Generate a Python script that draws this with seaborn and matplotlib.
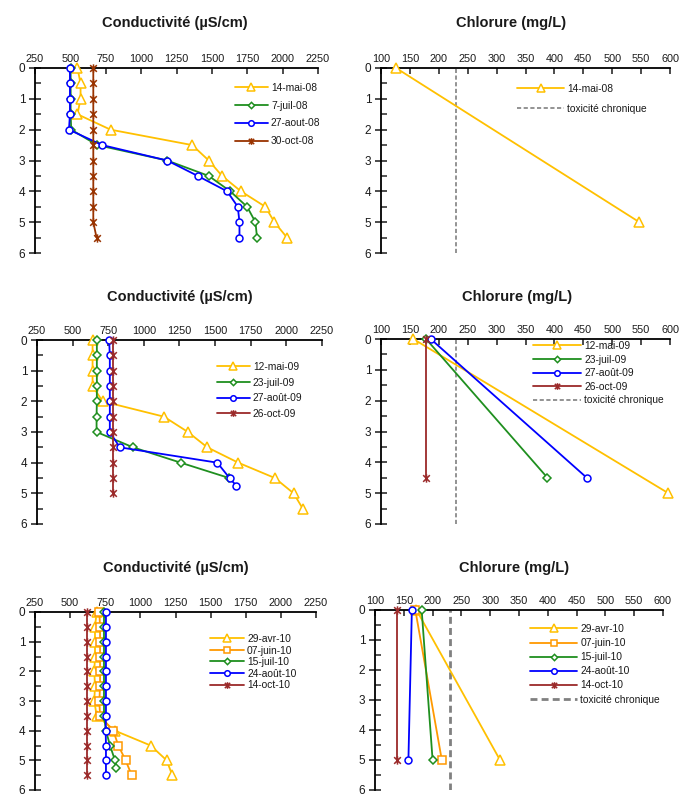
import numpy as np
import matplotlib
matplotlib.use("Agg")
import matplotlib.pyplot as plt
from matplotlib.path import Path
from matplotlib.ticker import MultipleLocator
import seaborn as sns

sns.set_style("white")
plt.rcParams["font.family"] = ["Liberation Sans", "DejaVu Sans"]

# ---------------- data ----------------
# 2008 conductivity profiles (µS/cm) vs depth (m)
depth_08 = [0, 0.5, 1, 1.5, 2, 2.5, 3, 3.5, 4, 4.5, 5, 5.5]
cond_14mai08 = [550, 572, 572, 550, 784, 1361, 1478, 1572, 1706, 1878, 1942, 2031]
cond_7juil08 = [502, 502, 502, 502, 506, 690, 1184, 1478, 1630, 1749, 1808, 1819]
cond_27aout08 = [497, 497, 497, 497, 490, 725, 1184, 1400, 1608, 1683, 1695, 1695]
cond_30oct08 = [662, 662, 662, 662, 662, 662, 662, 662, 662, 662, 662, 685]

# 2008 chloride (mg/L)
chl_depth_14mai08 = [0, 5]
chl_14mai08 = [126, 547]

# 2009 conductivity
depth_12mai09 = [0, 0.5, 1, 1.5, 2, 2.5, 3, 3.5, 4, 4.5, 5, 5.5]
cond_12mai09 = [640, 640, 640, 640, 710, 1141, 1309, 1445, 1662, 1919, 2051, 2115]
depth_23juil09 = [0, 0.5, 1, 1.5, 2, 2.5, 3, 3.5, 4, 4.5]
cond_23juil09 = [670, 670, 670, 670, 670, 668, 668, 924, 1258, 1598]
depth_27aout09 = [0, 0.5, 1, 1.5, 2, 2.5, 3, 3.5, 4, 4.5, 4.75]
cond_27aout09 = [756, 761, 761, 761, 761, 761, 761, 831, 1515, 1601, 1648]
depth_26oct09 = [0, 0.5, 1, 1.5, 2, 2.5, 3, 3.5, 4, 4.5, 5]
cond_26oct09 = [780, 780, 780, 780, 780, 780, 780, 780, 780, 780, 780]

# 2009 chloride
chl_depth_12mai09 = [0, 5]
chl_12mai09 = [156, 597]
chl_depth_23juil09 = [0, 4.5]
chl_23juil09 = [178, 388]
chl_depth_27aout09 = [0, 4.5]
chl_27aout09 = [186, 456]
chl_depth_26oct09 = [0, 4.5]
chl_26oct09 = [178, 178]

# 2010 conductivity
depth_10 = [0, 0.5, 1, 1.5, 2, 2.5, 3, 3.5, 4, 4.5, 5, 5.5]
cond_29avr10 = [689, 677, 677, 677, 672, 677, 672, 689, 819, 1073, 1187, 1227]
cond_07juin10 = [708, 713, 713, 713, 713, 713, 708, 713, 807, 843, 895, 938]
depth_15juil10 = [0, 0.5, 1, 1.5, 2, 2.5, 3, 3.5, 4, 4.5, 5, 5.25]
cond_15juil10 = [741, 741, 741, 741, 741, 741, 741, 741, 755, 784, 819, 829]
cond_24aout10 = [755, 755, 755, 755, 755, 755, 755, 755, 753, 755, 755, 755]
cond_14oct10 = [618, 618, 618, 618, 618, 618, 618, 618, 618, 618, 618, 618]

# 2010 chloride
chl_depth_10 = [0, 5]
chl_29avr10 = [172, 317]
chl_07juin10 = [170, 216]
chl_15juil10 = [181, 200]
chl_24aout10 = [164, 158]
chl_14oct10 = [139, 139]

# chronic toxicity criterion for chloride (mg/L)
tox_chronique = 230

cond_ticks = [250, 500, 750, 1000, 1250, 1500, 1750, 2000, 2250]
chl_ticks = [100, 150, 200, 250, 300, 350, 400, 450, 500, 550, 600]
depth_ticks = [0, 1, 2, 3, 4, 5, 6]

# ---------------- styles ----------------
YELLOW = "#FFC000"
GREEN = "#1F8F1F"
BLUE = "#0000FF"
BROWN = "#993300"
DARKRED = "#9B2A2A"
ORANGE = "#FF9900"
GREY = "#808080"

# asterisk-like star: an X crossed by a vertical bar
STAR = Path([(-1, -1), (1, 1), (-1, 1), (1, -1), (0, -1.25), (0, 1.25)],
            [Path.MOVETO, Path.LINETO, Path.MOVETO, Path.LINETO,
             Path.MOVETO, Path.LINETO])

MARK = {
    "tri": dict(marker="^", ms=6.5),
    "dia": dict(marker="D", ms=4),
    "circ": dict(marker="o", ms=5),
    "sq": dict(marker="s", ms=5.5),
    "star": dict(marker=STAR, ms=6),
}

W, H = 681, 799
fig = plt.figure(figsize=(W / 100, H / 100), dpi=100)


def px_axes(l, t, r, b):
    return fig.add_axes([l / W, 1 - b / H, (r - l) / W, (b - t) / H])


def profile(ax, x, y, color, mk, label):
    spec = MARK[mk]
    fc = "none" if mk == "star" else "white"
    sns.lineplot(x=x, y=y, ax=ax, sort=False, estimator=None, orient="y",
                 color=color, lw=1.3, marker=spec["marker"], ms=spec["ms"],
                 mfc=fc, mec=color, mew=1.1, label=label, legend=False,
                 clip_on=False, zorder=3)


def style_axes(ax, xlim, xticks):
    ax.set_xlim(*xlim)
    ax.set_ylim(6, 0)
    ax.set_xlabel("")
    ax.set_ylabel("")
    ax.xaxis.tick_top()
    ax.set_xticks(xticks)
    ax.set_yticks(depth_ticks)
    ax.yaxis.set_minor_locator(MultipleLocator(0.5))
    ax.tick_params(axis="x", which="major", direction="in", length=4, width=1.1,
                   pad=3, labelsize=7.8, colors="#1a1a1a", top=True, bottom=False)
    ax.tick_params(axis="y", which="major", direction="inout", length=8, width=1.1,
                   pad=3, labelsize=8.5, colors="#1a1a1a", left=True)
    ax.tick_params(axis="y", which="minor", direction="in", length=4, width=1.1, left=True)
    for side in ("right", "bottom"):
        ax.spines[side].set_visible(False)
    for side in ("left", "top"):
        ax.spines[side].set_visible(True)
        ax.spines[side].set_color("black")
        ax.spines[side].set_linewidth(1.3)
    ax.set_facecolor("white")


def legend(ax, x, y, handlelength, labelspacing, fontsize=7.4):
    leg = ax.legend(loc="upper left", bbox_to_anchor=(x / W, 1 - y / H),
                    bbox_transform=fig.transFigure, frameon=False,
                    fontsize=fontsize, handlelength=handlelength,
                    handletextpad=0.3, labelspacing=labelspacing,
                    borderpad=0, borderaxespad=0, markerscale=0.8)
    for t in leg.get_texts():
        t.set_color("#1a1a1a")


def title(x, y, text):
    fig.text(x / W, 1 - y / H, text, ha="center", va="center",
             fontsize=10.5, fontweight="bold", color="#1a1a1a")


def tox_line(ax, lw=1.2):
    ax.axvline(tox_chronique, color=GREY, lw=lw, ls=(0, (2.5, 1.5)),
               label="toxicité chronique", zorder=2)


# ---------------- 2008 ----------------
ax = px_axes(35, 68, 318, 253)
profile(ax, cond_14mai08, depth_08, YELLOW, "tri", "14-mai-08")
profile(ax, cond_7juil08, depth_08, GREEN, "dia", "7-juil-08")
profile(ax, cond_27aout08, depth_08, BLUE, "circ", "27-aout-08")
profile(ax, cond_30oct08, depth_08, BROWN, "star", "30-oct-08")
style_axes(ax, (250, 2250), cond_ticks)
legend(ax, 235, 83, 3.2, 0.75)
title(175, 23, "Conductivité (µS/cm)")

ax = px_axes(381, 68, 670, 253)
profile(ax, chl_14mai08, chl_depth_14mai08, YELLOW, "tri", "14-mai-08")
tox_line(ax)
style_axes(ax, (100, 600), chl_ticks)
legend(ax, 517, 84, 4.6, 0.95)
title(511, 23, "Chlorure (mg/L)")

# ---------------- 2009 ----------------
ax = px_axes(37, 340, 322, 524)
profile(ax, cond_12mai09, depth_12mai09, YELLOW, "tri", "12-mai-09")
profile(ax, cond_23juil09, depth_23juil09, GREEN, "dia", "23-juil-09")
profile(ax, cond_27aout09, depth_27aout09, BLUE, "circ", "27-août-09")
profile(ax, cond_26oct09, depth_26oct09, DARKRED, "star", "26-oct-09")
style_axes(ax, (250, 2250), cond_ticks)
legend(ax, 217, 362, 3.2, 0.55)
title(180, 297, "Conductivité (µS/cm)")

ax = px_axes(381, 339, 670, 524)
profile(ax, chl_12mai09, chl_depth_12mai09, YELLOW, "tri", "12-mai-09")
profile(ax, chl_23juil09, chl_depth_23juil09, GREEN, "dia", "23-juil-09")
profile(ax, chl_27aout09, chl_depth_27aout09, BLUE, "circ", "27-août-09")
profile(ax, chl_26oct09, chl_depth_26oct09, DARKRED, "star", "26-oct-09")
tox_line(ax)
style_axes(ax, (100, 600), chl_ticks)
legend(ax, 533, 341, 4.7, 0.35)
title(517, 297, "Chlorure (mg/L)")

# ---------------- 2010 ----------------
ax = px_axes(35, 612, 316, 790)
profile(ax, cond_29avr10, depth_10, YELLOW, "tri", "29-avr-10")
profile(ax, cond_07juin10, depth_10, ORANGE, "sq", "07-juin-10")
profile(ax, cond_15juil10, depth_15juil10, GREEN, "dia", "15-juil-10")
profile(ax, cond_24aout10, depth_10, BLUE, "circ", "24-août-10")
profile(ax, cond_14oct10, depth_10, DARKRED, "star", "14-oct-10")
style_axes(ax, (250, 2250), cond_ticks)
legend(ax, 210, 634, 3.3, 0.15)
title(176, 568, "Conductivité (µS/cm)")

ax = px_axes(375, 610, 663, 790)
profile(ax, chl_29avr10, chl_depth_10, YELLOW, "tri", "29-avr-10")
profile(ax, chl_07juin10, chl_depth_10, ORANGE, "sq", "07-juin-10")
profile(ax, chl_15juil10, chl_depth_10, GREEN, "dia", "15-juil-10")
profile(ax, chl_24aout10, chl_depth_10, BLUE, "circ", "24-août-10")
profile(ax, chl_14oct10, chl_depth_10, DARKRED, "star", "14-oct-10")
tox_line(ax, lw=2)
style_axes(ax, (100, 600), chl_ticks)
legend(ax, 530, 624, 4.6, 0.4)
title(514, 568, "Chlorure (mg/L)")

fig.savefig("out.png", dpi=100, facecolor="white")
